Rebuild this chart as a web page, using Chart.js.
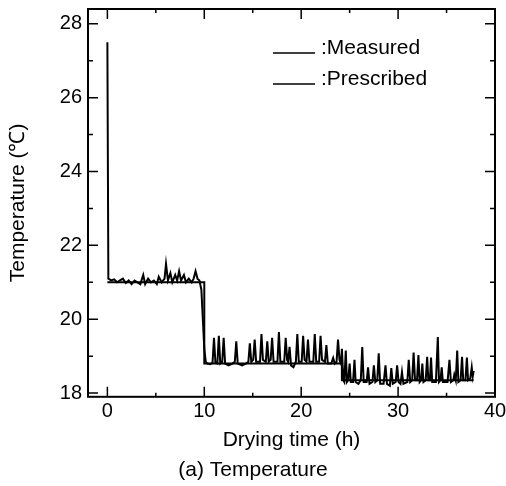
<!DOCTYPE html>
<html>
<head>
<meta charset="utf-8">
<script src="https://cdn.jsdelivr.net/npm/chart.js@4/dist/chart.umd.min.js"></script>
<style>
  body { margin: 0; background: #fff; }
</style>
</head>
<body>
<canvas id="myChart" width="506" height="486"></canvas>
<script>
// Measured temperature (h, degC)
const measuredTime = [
    0, 0.1, 0.4, 0.7, 1.0, 1.3, 1.6, 1.9, 2.2, 2.5, 2.8, 3.1, 3.4, 3.7, 3.9, 4.2, 4.5, 4.8, 5.1, 5.3,
    5.6, 5.9, 6.05, 6.25, 6.5, 6.7, 7.0, 7.2, 7.4, 7.6, 7.9, 8.1, 8.4, 8.7, 8.9, 9.1, 9.3, 9.5, 9.7, 9.85,
    10.0, 10.15, 10.3,
    10.6, 10.85, 11, 11.15, 11.35, 11.5, 11.65, 11.85, 12, 12.15, 12.5, 12.9, 13.15, 13.3, 13.45, 13.9,
    14.3, 14.55, 14.7, 14.85, 15.05, 15.2, 15.35, 15.75, 15.9, 16.05, 16.35, 16.5, 16.65, 16.85, 17, 17.15,
    17.55, 17.7, 17.85, 18.25, 18.4, 18.55, 18.65, 18.8, 18.95, 19.2, 19.45, 19.6, 19.75, 20.05, 20.2, 20.35,
    20.55, 20.7, 20.85, 21.25, 21.4, 21.55, 21.85, 22, 22.15, 22.45, 22.6, 22.75, 23.1, 23.3, 23.45, 23.65,
    23.8, 23.95, 24.1, 24.2,
    24.35, 24.45, 24.6, 24.72, 24.85, 25.0, 25.12, 25.35, 25.5, 25.62, 25.9, 26.15, 26.3, 26.45, 26.75, 26.9,
    27.05, 27.35, 27.5, 27.65, 27.85, 28.0, 28.15, 28.5, 28.7, 28.85, 29.15, 29.3, 29.45, 29.75, 29.9, 30.05,
    30.25, 30.4, 30.55, 30.95, 31.1, 31.25, 31.45, 31.6, 31.75, 31.95, 32.1, 32.22, 32.38, 32.5, 32.62, 32.85,
    33, 33.12, 33.28, 33.4, 33.52, 33.9, 34.1, 34.22, 34.38, 34.5, 34.62, 35.1, 35.3, 35.45, 35.7, 35.8,
    35.95, 36.1, 36.22, 36.45, 36.6, 36.72, 36.95, 37.1, 37.22, 37.45, 37.6, 37.7, 37.8
];
const measuredTemp = [
    27.5, 21.1, 21.05, 21.08, 21.0, 21.05, 21.1, 20.98, 21.05, 20.95, 21.05, 21.0, 20.95, 21.2, 20.95, 21.1, 21.0, 21.05, 20.95, 21.15,
    21.0, 21.1, 21.5, 21.05, 21.25, 21.0, 21.2, 21.05, 21.3, 21.05, 21.2, 21.0, 21.1, 21.0, 21.1, 21.3, 21.1, 21.05, 20.8, 20.0,
    19.2, 18.85, 18.8,
    18.78, 18.82, 19.5, 18.82, 18.8, 19.55, 18.8, 18.85, 19.5, 18.8, 18.75, 18.8, 18.85, 19.4, 18.8, 18.75,
    18.8, 18.85, 19.35, 18.85, 18.9, 19.45, 18.85, 18.85, 19.6, 18.9, 18.85, 19.4, 18.85, 18.9, 19.5, 18.85,
    18.85, 19.65, 18.85, 18.85, 19.5, 18.9, 18.85, 19.25, 18.75, 18.7, 18.85, 19.6, 18.85, 18.85, 19.55, 18.9,
    18.85, 19.45, 18.85, 18.85, 19.6, 18.85, 18.85, 19.55, 18.9, 18.85, 19.3, 18.8, 18.8, 18.95, 18.8, 18.85,
    19.45, 18.9, 18.8, 19.2,
    18.35, 18.3, 19.15, 18.3, 18.35, 18.8, 18.3, 18.3, 18.9, 18.3, 18.25, 18.35, 19.25, 18.3, 18.3, 18.7,
    18.25, 18.3, 18.75, 18.3, 18.35, 19.08, 18.25, 18.25, 18.75, 18.25, 18.2, 18.68, 18.25, 18.3, 18.75, 18.3,
    18.25, 18.57, 18.25, 18.3, 18.9, 18.3, 18.35, 19.1, 18.35, 18.35, 19.03, 18.3, 18.35, 18.8, 18.3, 18.35,
    18.98, 18.35, 18.35, 18.96, 18.3, 18.3, 19.52, 18.3, 18.35, 18.7, 18.3, 18.3, 18.9, 18.3, 18.35, 18.5,
    18.35, 19.15, 18.3, 18.35, 18.98, 18.35, 18.35, 18.96, 18.35, 18.4, 18.7, 18.45, 18.6
];

// Prescribed set-point (stepped)
const prescribedTime = [0, 10, 24.2, 37.8];
const prescribedTemp = [21.0, 18.8, 18.35, 18.35];

// Axes
const xTicks = [0, 10, 20, 30, 40];
const xMinorTicks = [5, 15, 25, 35];
const yTicks = [18, 20, 22, 24, 26, 28];
const yMinorTicks = [19, 21, 23, 25, 27];

const legendLabels = [':Measured', ':Prescribed'];

const fontFamily = '"Liberation Sans", Arial, Helvetica, sans-serif';

// frame + inward tick marks + in-plot legend
const framePlugin = {
    id: 'frame',
    afterDatasetsDraw(chart) {
        const ctx = chart.ctx;
        const area = chart.chartArea;
        const xs = chart.scales.x;
        const ys = chart.scales.y;
        ctx.save();
        ctx.strokeStyle = '#000';
        ctx.lineWidth = 2;
        ctx.strokeRect(area.left, area.top, area.right - area.left, area.bottom - area.top);

        ctx.lineWidth = 1.5;
        ctx.beginPath();
        const xTick = (v, len) => {
            const px = xs.getPixelForValue(v);
            ctx.moveTo(px, area.bottom); ctx.lineTo(px, area.bottom - len);
            ctx.moveTo(px, area.top); ctx.lineTo(px, area.top + len);
        };
        const yTick = (v, len) => {
            const py = ys.getPixelForValue(v);
            ctx.moveTo(area.left, py); ctx.lineTo(area.left + len, py);
            ctx.moveTo(area.right, py); ctx.lineTo(area.right - len, py);
        };
        xTicks.forEach(v => xTick(v, 10));
        xMinorTicks.forEach(v => xTick(v, 4));
        yTicks.forEach(v => yTick(v, 10));
        yMinorTicks.forEach(v => yTick(v, 5));
        ctx.stroke();

        // legend
        ctx.font = '21px ' + fontFamily;
        ctx.fillStyle = '#000';
        ctx.textBaseline = 'middle';
        ctx.textAlign = 'left';
        legendLabels.forEach((label, i) => {
            const y = area.top + 39 + i * 31;
            ctx.lineWidth = 1.5;
            ctx.beginPath();
            ctx.moveTo(area.left + 185, y + 5);
            ctx.lineTo(area.left + 227, y + 5);
            ctx.stroke();
            ctx.fillText(label, area.left + 233, y);
        });
        ctx.restore();
    }
};

const ctx = document.getElementById('myChart').getContext('2d');
const myChart = new Chart(ctx, {
    type: 'line',
    data: {
        datasets: [
            {
                label: 'Measured',
                data: measuredTime.map((t, i) => ({ x: t, y: measuredTemp[i] })),
                borderColor: '#000',
                borderWidth: 2,
                pointRadius: 0,
                tension: 0
            },
            {
                label: 'Prescribed',
                data: prescribedTime.map((t, i) => ({ x: t, y: prescribedTemp[i] })),
                borderColor: '#000',
                borderWidth: 2,
                pointRadius: 0,
                stepped: 'before'
            }
        ]
    },
    options: {
        responsive: false,
        animation: false,
        layout: { padding: { top: 9, left: 0, right: 0, bottom: 0 } },
        scales: {
            x: {
                type: 'linear',
                min: -2,
                max: 40,
                grid: { display: false, drawTicks: false },
                border: { display: false },
                afterBuildTicks: (scale) => { scale.ticks = xTicks.map(v => ({ value: v })); },
                afterFit: (scale) => {
                    scale.height = 56;
                    scale.paddingLeft = 0;
                    scale.paddingRight = 11;
                },
                ticks: { color: '#000', padding: 3, maxRotation: 0, font: { family: fontFamily, size: 20 } },
                title: {
                    display: true,
                    text: 'Drying time (h)',
                    color: '#000',
                    padding: { top: 0, bottom: 0 },
                    font: { family: fontFamily, size: 21 }
                }
            },
            y: {
                min: 17.9,
                max: 28.4,
                grid: { display: false, drawTicks: false },
                border: { display: false },
                afterBuildTicks: (scale) => { scale.ticks = yTicks.map(v => ({ value: v })); },
                afterFit: (scale) => {
                    scale.width = 88;
                    scale.paddingTop = 0;
                    scale.paddingBottom = 0;
                },
                ticks: { color: '#000', padding: 6, font: { family: fontFamily, size: 20 } },
                title: {
                    display: true,
                    text: 'Temperature (℃)',
                    color: '#000',
                    padding: { top: 6, bottom: 0 },
                    font: { family: fontFamily, size: 21 }
                }
            }
        },
        plugins: {
            legend: { display: false },
            tooltip: { enabled: false },
            title: {
                display: true,
                position: 'bottom',
                text: '(a) Temperature',
                color: '#000',
                padding: { top: 5, bottom: 3 },
                font: { family: fontFamily, size: 21, weight: 'normal' }
            }
        }
    },
    plugins: [framePlugin]
});
</script>
</body>
</html>
